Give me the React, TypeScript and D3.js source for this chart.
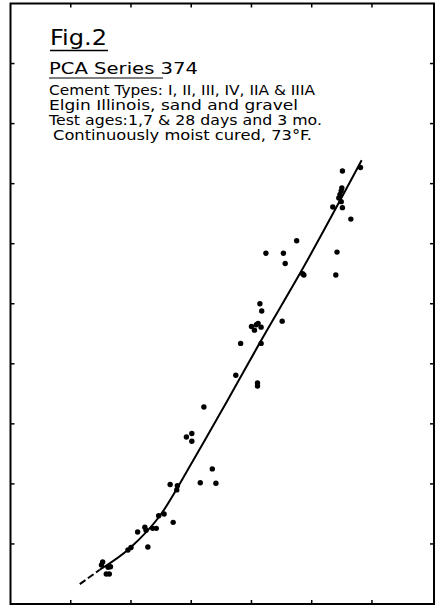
import React from "react";
import * as d3 from "d3";

// Measured points (arbitrary unit grid: x 0..7 divisions, y 0..10 divisions)
const pointX = [
  5.51, 5.81, 5.50, 5.49, 5.47, 5.45, 5.49, 5.35, 5.51, 5.65,
  4.75, 4.24, 4.53, 4.56, 5.42, 4.87, 4.85, 5.40,
  4.14, 4.17, 4.00, 4.05, 4.11, 4.16, 4.08, 4.51, 3.82, 4.16, 3.74,
  4.10, 4.10, 3.21, 2.92, 3.01, 3.01, 3.35, 3.15, 3.41, 2.65, 2.77, 2.76,
  2.46, 2.55, 2.70, 2.11, 2.23, 2.25, 2.36, 2.42, 2.28, 1.95, 2.00,
  1.53, 1.51, 1.62, 1.66, 1.59, 1.64,
];
const pointY = [
  7.21, 7.27, 6.93, 6.88, 6.82, 6.76, 6.70, 6.61, 6.60, 6.41,
  6.05, 5.84, 5.84, 5.67, 5.86, 5.48, 5.50, 5.48,
  5.00, 4.88, 4.62, 4.56, 4.67, 4.61, 4.65, 4.71, 4.34, 4.34, 3.81,
  3.68, 3.63, 3.28, 2.78, 2.84, 2.71, 2.25, 2.02, 2.01, 1.99, 1.97, 1.90,
  1.47, 1.50, 1.36, 1.20, 1.28, 1.23, 1.26, 1.26, 0.95, 0.90, 0.94,
  0.70, 0.65, 0.61, 0.62, 0.50, 0.50,
];

// Fitted curve (dashed extrapolation then solid)
const dashX = [1.15, 1.48];
const dashY = [0.33, 0.57];
const curveX = [1.48, 1.98, 2.48, 3.02, 3.59, 4.15, 4.87, 5.83];
const curveY = [0.57, 0.93, 1.47, 2.37, 3.37, 4.37, 5.62, 7.39];

const xTicks = [1, 2, 3, 4, 5, 6];
const yTicks = [1, 2, 3, 4, 5, 6, 7, 8, 9];

const titleLines = [
  "Cement Types: I, II, III, IV, IIA & IIIA",
  "Elgin Illinois, sand and gravel",
  "Test ages:1,7 & 28 days and 3 mo.",
  "Continuously moist cured, 73°F.",
];

export default function App() {
  const W = 443, H = 607;
  const left = 10.5, right = 434, top = 3.5, bottom = 604;
  const x = d3.scaleLinear().domain([0, 7.03]).range([left, right]);
  const y = d3.scaleLinear().domain([0, 10]).range([bottom, top]);

  const line = d3
    .line<number>()
    .x((_, i) => x(curveX[i]))
    .y((_, i) => y(curveY[i]))
    .curve(d3.curveMonotoneX);
  const dline = d3
    .line<number>()
    .x((_, i) => x(dashX[i]))
    .y((_, i) => y(dashY[i]));

  const font = "'DejaVu Sans', sans-serif";
  const lineXs = [49, 49, 49, 53];
  const lineYs = [95, 110, 125, 140];
  const lineW = [266, 249, 273, 259];

  return (
    <svg width={W} height={H} style={{ position: "absolute", left: 0, top: 0, background: "#fff" }}>
      <rect x={left} y={top} width={right - left} height={bottom - top} fill="none" stroke="#000" strokeWidth={2} />
      {yTicks.map((t) => (
        <g key={"y" + t}>
          <line x1={left} x2={left + 4} y1={y(t)} y2={y(t)} stroke="#000" strokeWidth={1.5} />
          <line x1={right} x2={right - 4} y1={y(t)} y2={y(t)} stroke="#000" strokeWidth={1.5} />
        </g>
      ))}
      {xTicks.map((t) => (
        <g key={"x" + t}>
          <line x1={x(t)} x2={x(t)} y1={bottom} y2={bottom - 4} stroke="#000" strokeWidth={1.5} />
          <line x1={x(t)} x2={x(t)} y1={top} y2={top + 4} stroke="#000" strokeWidth={1.5} />
        </g>
      ))}

      <text x={50} y={45} fontFamily={font} fontSize={22} textLength={57} lengthAdjust="spacingAndGlyphs">Fig.2</text>
      <line x1={50} x2={108} y1={50.5} y2={50.5} stroke="#000" strokeWidth={1.5} />
      <text x={49} y={74} fontFamily={font} fontSize={15.5} textLength={149} lengthAdjust="spacingAndGlyphs">PCA Series 374</text>
      <line x1={49} x2={163} y1={78} y2={78} stroke="#000" strokeWidth={1.2} />
      {titleLines.map((s, i) => (
        <text key={i} x={lineXs[i]} y={lineYs[i]} fontFamily={font} fontSize={13.5} textLength={lineW[i]} lengthAdjust="spacingAndGlyphs">
          {s}
        </text>
      ))}

      <path d={dline(dashX) || ""} fill="none" stroke="#000" strokeWidth={2} strokeDasharray="7,3" />
      <path d={line(curveX) || ""} fill="none" stroke="#000" strokeWidth={2} />
      {pointX.map((px, i) => (
        <circle key={i} cx={x(px)} cy={y(pointY[i])} r={2.7} fill="#000" />
      ))}
    </svg>
  );
}
